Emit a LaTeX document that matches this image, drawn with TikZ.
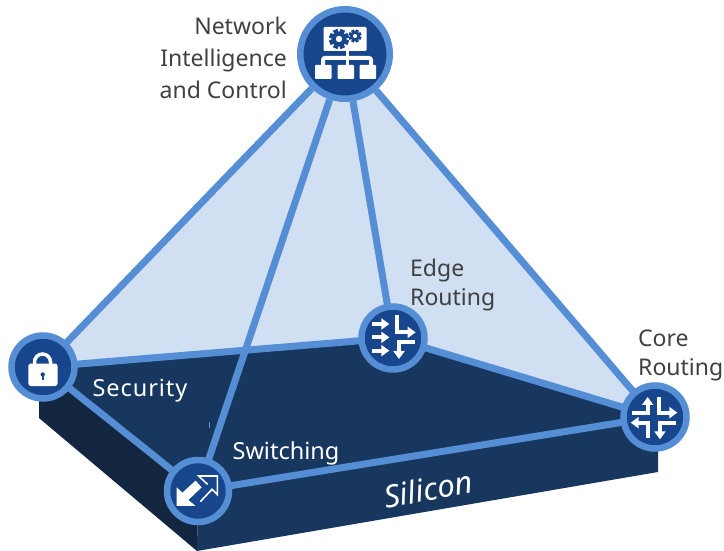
\documentclass[tikz,border=0pt]{standalone}
\usepackage{fontspec}
\setmainfont{Noto Sans}
\usetikzlibrary{arrows.meta,backgrounds}
\definecolor{ringblue}{HTML}{558ED5}
\definecolor{hubblue}{HTML}{17468C}
\definecolor{topface}{HTML}{17375E}
\definecolor{sideface}{HTML}{12263F}
\definecolor{lightface}{HTML}{D0DFF2}
\definecolor{inktext}{HTML}{404040}
\tikzset{
  x=1pt,y=-1pt,
  hub/.style={circle,draw=ringblue,fill=hubblue,line width=6.5pt,inner sep=0pt},
  link/.style={draw=ringblue,line width=7pt},
  lbl/.style={font=\fontsize{23}{32}\selectfont,text=inktext,inner sep=0pt},
  lblw/.style={font=\fontsize{23.5}{31}\selectfont,text=white,inner sep=0pt},
  iconline/.style={draw=white,line width=4pt,line join=miter},
  iconarrow/.style={iconline,-{Triangle[width=11pt,length=8pt]}},
}
\newcommand{\gearicon}[3]{% x, y, radius
  \fill[hubblue] (#1,#2) circle[radius=#3*0.74];
  \foreach \a in {0,45,...,315}{
    \fill[hubblue,shift={(#1,#2)},rotate=\a+22.5] (#3*0.62,-#3*0.24) rectangle (#3,#3*0.24);
  }
  \fill[white] (#1,#2) circle[radius=#3*0.32];
}
\begin{document}
\begin{tikzpicture}
\useasboundingbox (0,0) rectangle (724,551);
\node[hub,minimum size=89.5pt] (net) at (345,54) {};
\node[hub,minimum size=63pt] (sec) at (43,367) {};
\node[hub,minimum size=62pt] (swi) at (198,491) {};
\node[hub,minimum size=63pt] (edg) at (393,338) {};
\node[hub,minimum size=63pt] (cor) at (655,417) {};
\coordinate (frontTR) at (658,440);
\coordinate (frontBR) at (658,472);
\coordinate (frontBL) at (197,551);
\coordinate (leftTL) at (39,370);
\coordinate (leftBL) at (39,418);
\coordinate (tick1) at (209,422);
\coordinate (tick2) at (209,428);
\begin{scope}[on background layer]
  \fill[lightface] (net.center) -- (sec.center) -- (edg.center) -- (cor.center) -- cycle;
  \fill[sideface] (leftTL) -- (leftBL) -- (frontBL) -- (swi.center) -- (sec.center) -- cycle;
  \fill[topface] (sec.center) -- (edg.center) -- (cor.center) -- (frontTR) -- (frontBR) -- (frontBL) -- (swi.center) -- cycle;
  \draw[ringblue,line width=0.8pt] (tick1) -- (tick2);
  \draw[link] (net) -- (sec.center);
  \draw[link] (net) -- (swi.center);
  \draw[link] (net) -- (edg.center);
  \draw[link] (net) -- (cor.center);
  \draw[link] (sec.center) -- (edg.center);
  \draw[link] (edg.center) -- (cor.center);
  \draw[link] (cor.center) -- (swi.center);
  \draw[link] (swi.center) -- (sec.center);
\end{scope}
% network icon
\fill[white,rounded corners=1.2pt] (323.5,27) rectangle (366.5,51);
\gearicon{339}{39}{10}
\gearicon{355}{36}{6.5}
\fill[white] (345.5,51) rectangle (348.5,57);
\draw[white,line width=4pt,rounded corners=2pt] (323,65) -- (323,58) -- (371,58) -- (371,65);
\fill[white] (345.5,58) rectangle (348.5,65);
\fill[white,rounded corners=0.8pt] (315,65) rectangle (331.5,79);
\fill[white,rounded corners=0.8pt] (337.5,65) rectangle (354,79);
\fill[white,rounded corners=0.8pt] (359.5,65) rectangle (376,79);
% lock icon
\draw[white,line width=3.5pt] (34.5,364) -- (34.5,362) arc[start angle=180,end angle=360,radius=8] -- (50.5,364);
\fill[white,rounded corners=2.5pt] (28.3,363.5) rectangle (57.5,386);
\fill[hubblue] (42.7,374.5) circle[radius=2.2];
\fill[hubblue] (41.7,374.5) rectangle (43.7,379.5);
% switching icon
\begin{scope}[shift={(155,450)},x=0.3333pt,y=-0.3333pt]
  \fill[white] (65,168) -- (65,112) -- (82,128) -- (122,92) -- (140,112) -- (100,150) -- (122,168) -- cycle;
  \draw[white,line width=1.6pt,line join=miter] (150,96) -- (131,78) -- (187,78) -- (187,134) -- (171,118) -- (136,155);
  \draw[white,line width=1.6pt] (150,96) -- (158,103);
\end{scope}
% edge icon
\begin{scope}[shift={(350,295)},x=0.3333pt,y=-0.3333pt]
  \draw[iconarrow] (65,87) -- (118,87);
  \draw[iconarrow] (65,127) -- (118,127);
  \draw[iconarrow] (65,167) -- (118,167);
  \draw[iconarrow] (142,60) -- (142,112) -- (197,112);
  \draw[iconarrow] (194,140) -- (147,140) -- (147,192);
\end{scope}
% core icon
\begin{scope}[shift={(610,375)},x=0.3333pt,y=-0.3333pt]
  \draw[iconarrow] (65,113) -- (113,113) -- (113,66);
  \draw[iconarrow] (148,65) -- (148,113) -- (202,113);
  \draw[iconarrow] (113,190) -- (113,143) -- (62,143);
  \draw[iconarrow] (197,143) -- (150,143) -- (150,193);
\end{scope}
% labels
\node[lbl,anchor=east,align=right] (tnet) at (287,57.5) {Network\\Intelligence\\and Control};
\node[lblw,anchor=center] (tsec) at (140,391) {\addfontfeature{LetterSpace=4}Security};
\node[lblw,anchor=center] (tswi) at (286,453) {Switching};
\node[lbl,anchor=west,align=left] (tedg) at (410,285) {Edge\\[-3pt]Routing};
\node[lbl,anchor=west,align=left] (tcor) at (638,355) {Core\\[-3pt]Routing};
\node[text=white,inner sep=0pt,rotate=10,font=\fontsize{31}{31}\selectfont\itshape] (tsil) at (428,489) {Silicon};
\end{tikzpicture}
\end{document}
